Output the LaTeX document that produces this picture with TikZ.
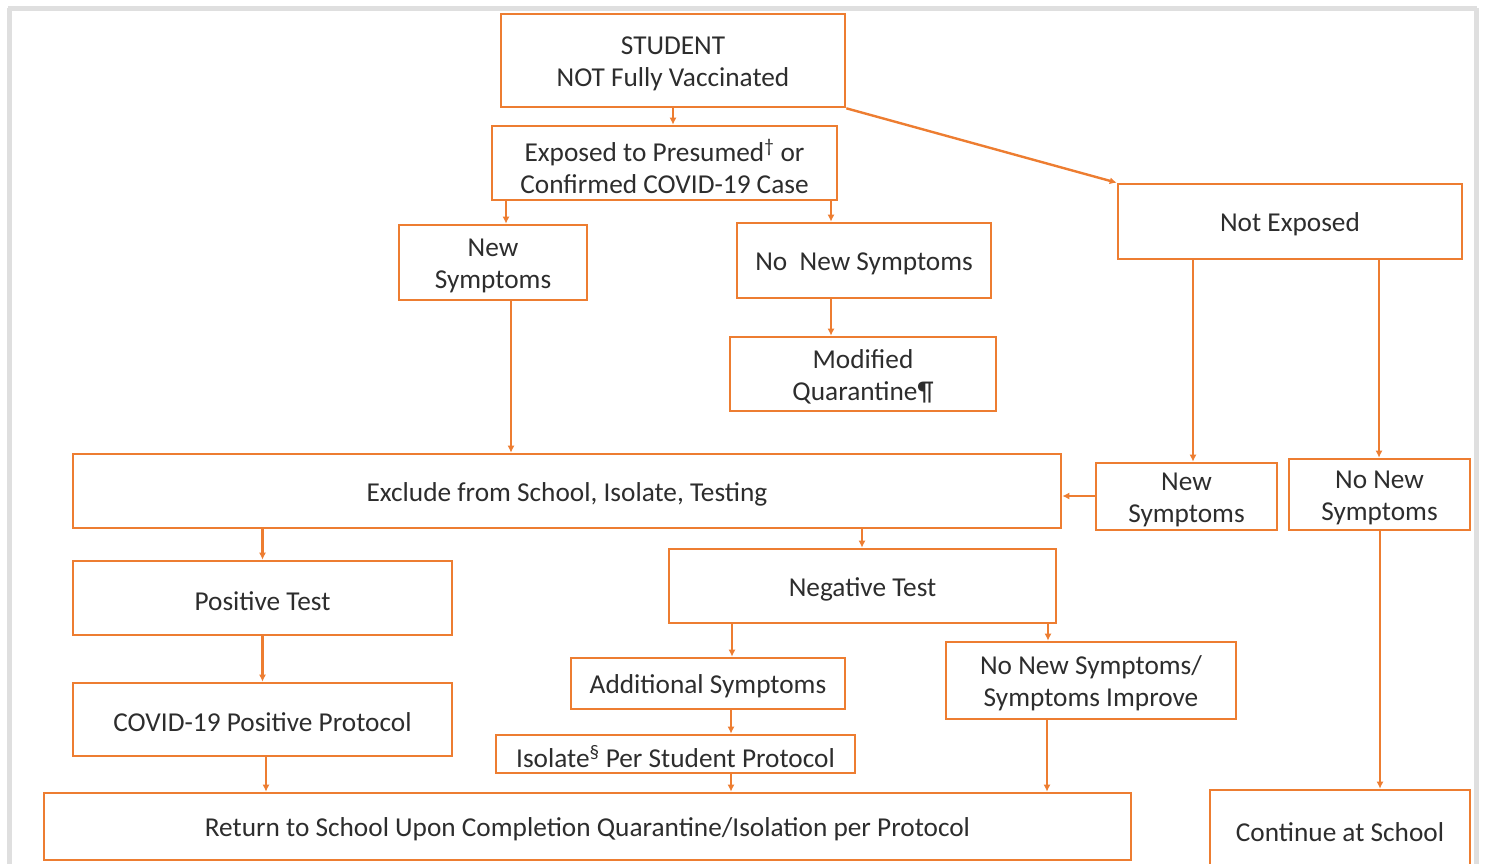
\documentclass[tikz,border=0pt]{standalone}
\usepackage{fontspec}
\setmainfont{Carlito}
\usetikzlibrary{arrows.meta}

\definecolor{boxorange}{RGB}{237,125,49}
\definecolor{textgray}{RGB}{45,45,45}

\tikzset{
  stepbox/.style={draw=boxorange, line width=2.6pt, inner sep=0pt},
  boxtext/.style={inner sep=0pt, align=center, text=textgray,
    font=\fontsize{27.3}{32}\selectfont},
  flow/.style={->, draw=boxorange, line width=2.4pt}
}

\newcommand{\boxat}[6]{% name, left, top, right, bottom, text
  \node[stepbox, minimum width={#4-#2}, minimum height={#5-#3}]
    (#1) at ({(#2+#4)/2},{(#3+#5)/2}) {};
  \node[boxtext] (#1-text) at ([yshift=-3pt]#1.center) {#6};}

\begin{document}
\begin{tikzpicture}[x=1pt, y=-1pt, >={Latex[length=7pt,width=7pt]}]

\useasboundingbox (0,0) rectangle (1485,863);

% Frame round the picture
\draw[gray!25, line width=5pt] (8,8) -- (1477,8);
\draw[gray!25, line width=5pt] (9,8) -- (9,875);
\draw[gray!25, line width=5pt] (1476,8) -- (1476,875);

% Boxes
\boxat{student}{501}{14}{845}{107}{STUDENT\\NOT Fully Vaccinated}
\boxat{exposed}{492}{126}{837}{200}{Exposed to Presumed\textsuperscript{\dag} or\\Confirmed COVID-19 Case}
\boxat{newsymA}{399}{225}{587}{300}{New\\Symptoms}
\boxat{nonewA}{737}{223}{991}{298}{No\ \ New Symptoms}
\boxat{modq}{730}{337}{996}{411}{Modified\\Quarantine\P}
\boxat{notexp}{1118}{184}{1462}{259}{Not Exposed}
\boxat{exclude}{73}{454}{1061}{528}{Exclude from School, Isolate, Testing}
\boxat{newsymB}{1096}{463}{1277}{530}{New\\Symptoms}
\boxat{nonewB}{1289}{459}{1470}{530}{No New\\Symptoms}
\boxat{postest}{73}{561}{452}{635}{Positive Test}
\boxat{negtest}{669}{549}{1056}{623}{Negative Test}
\boxat{protocol}{73}{683}{452}{756}{COVID-19 Positive Protocol}
\boxat{addsym}{571}{658}{845}{709}{Additional Symptoms}
\boxat{nonewC}{946}{642}{1236}{719}{No New Symptoms/\\Symptoms Improve}
\boxat{isolate}{496}{735}{855}{773}{Isolate\textsuperscript{\S} Per Student Protocol}
\boxat{return}{44}{793}{1131}{860}{Return to School Upon Completion Quarantine/Isolation per Protocol}
\boxat{cont}{1210}{790}{1470}{868}{Continue at School}

% Connectors
\draw[flow] (student.south) -- (student.south |- exposed.north);
\draw[flow] (student.south east) -- (notexp.north west);
\draw[flow] (exposed.south -| 506,0) -- (newsymA.north -| 506,0);
\draw[flow] (exposed.south -| 831,0) -- (nonewA.north -| 831,0);
\draw[flow] (nonewA.south -| 831,0) -- (modq.north -| 831,0);
\draw[flow] (newsymA.south -| 511,0) -- (exclude.north -| 511,0);
\draw[flow] (notexp.south -| 1193,0) -- (newsymB.north -| 1193,0);
\draw[flow] (notexp.south -| 1379,0) -- (nonewB.north -| 1379,0);
\draw[flow] (newsymB.west |- 0,496) -- (exclude.east |- 0,496);
\draw[flow] (exclude.south -| postest.north) -- (postest.north);
\draw[flow] (exclude.south -| 862,0) -- (negtest.north -| 862,0);
\draw[flow] (postest.south) -- (protocol.north);
\draw[flow] (negtest.south -| 732,0) -- (addsym.north -| 732,0);
\draw[flow] (negtest.south -| 1048,0) -- (nonewC.north -| 1048,0);
\draw[flow] (addsym.south -| 731,0) -- (isolate.north -| 731,0);
\draw[flow] (isolate.south -| 731,0) -- (return.north -| 731,0);
\draw[flow] (protocol.south -| 266,0) -- (return.north -| 266,0);
\draw[flow] (nonewC.south -| 1047,0) -- (return.north -| 1047,0);
\draw[flow] (nonewB.south -| 1380,0) -- (cont.north -| 1380,0);

\end{tikzpicture}
\end{document}
